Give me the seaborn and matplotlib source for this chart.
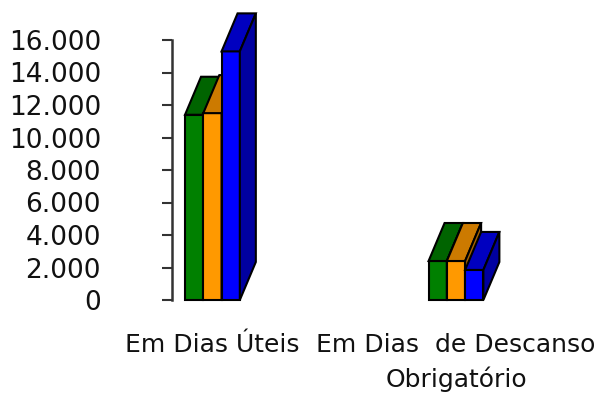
import seaborn as sns
import pandas as pd
import matplotlib.pyplot as plt
from matplotlib.patches import Polygon
from matplotlib.ticker import FuncFormatter

categorias = ["Em Dias Úteis", "Em Dias  de Descanso\nObrigatório"]
series = ["Série 1", "Série 2", "Série 3"]
valores = {
    "Série 1": [11400, 2400],
    "Série 2": [11500, 2400],
    "Série 3": [15300, 1850],
}
cores_frente = ["#008000", "#FF9900", "#0000FF"]
cores_topo = ["#006400", "#CC7A00", "#0000C0"]
cores_lado = ["#005000", "#A86400", "#0000A0"]

rows = []
for s in series:
    for c, v in zip(categorias, valores[s]):
        rows.append({"categoria": c, "serie": s, "valor": v})
df = pd.DataFrame(rows)

sns.set_style("white")
plt.rcParams["font.family"] = ["DejaVu Sans"]

fig = plt.figure(figsize=(6.03, 3.98), dpi=100)
ax = fig.add_axes([172 / 603, 98 / 398, 340 / 603, 260 / 398])

sns.barplot(data=df, x="categoria", y="valor", hue="serie", order=categorias,
            hue_order=series, palette=cores_frente, saturation=1, width=0.225,
            edgecolor="black", linewidth=1.5, legend=False, ax=ax)

ax.set_ylim(0, 16000)
ax.set_xlim(-0.166, 1.23)
ax.set_yticks(range(0, 16001, 2000))
ax.yaxis.set_major_formatter(FuncFormatter(lambda v, p: f"{int(v):,}".replace(",", ".")))
ax.set_xlabel("")
ax.set_ylabel("")
for sp in ["top", "right", "bottom"]:
    ax.spines[sp].set_visible(False)
ax.spines["left"].set_color("#333333")
ax.spines["left"].set_linewidth(1.8)
ax.tick_params(axis="y", left=True, length=7.2, width=1.5, color="#333333",
               direction="out", pad=44, labelsize=19, labelcolor="#111111")
ax.tick_params(axis="x", length=0, pad=24, labelsize=18, labelcolor="#111111")
for lab in ax.get_xticklabels():
    lab.set_horizontalalignment("center")
    lab.set_multialignment("center")
    lab.set_linespacing(1.45)

# profundidade 3D em pixels -> unidades de dados
dx = 16 * (ax.get_xlim()[1] - ax.get_xlim()[0]) / 340
dy = 38 * 16000 / 260

n_cat = len(categorias)
for i, bar in enumerate(ax.patches[:len(series) * n_cat]):
    k = i // n_cat
    x0 = bar.get_x()
    x1 = x0 + bar.get_width()
    h = bar.get_height()
    bar.set_zorder(2 + k)
    bar.set_clip_on(False)
    topo = Polygon([(x0, h), (x1, h), (x1 + dx, h + dy), (x0 + dx, h + dy)],
                   closed=True, facecolor=cores_topo[k], edgecolor="black",
                   linewidth=1.5, zorder=2.5 + k, clip_on=False)
    lado = Polygon([(x1, 0), (x1, h), (x1 + dx, h + dy), (x1 + dx, dy)],
                   closed=True, facecolor=cores_lado[k], edgecolor="black",
                   linewidth=1.5, zorder=2.5 + k, clip_on=False)
    ax.add_patch(topo)
    ax.add_patch(lado)

plt.savefig("out.png", dpi=100)
